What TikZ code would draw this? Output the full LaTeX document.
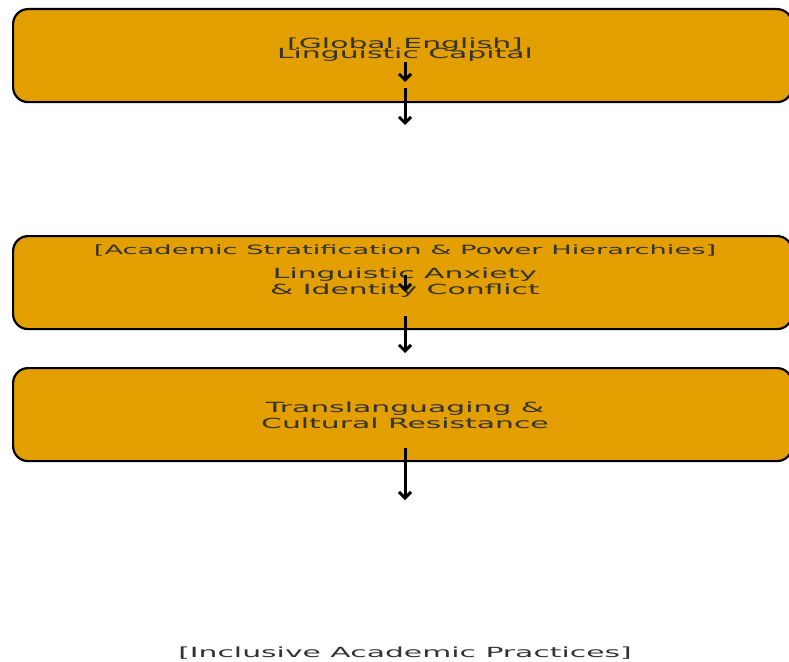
\documentclass[tikz,border=0pt]{standalone}
\usepackage{fontspec}
\setmainfont{DejaVu Sans}
\usetikzlibrary{arrows.meta}
\definecolor{stageorange}{HTML}{E39E00}
\definecolor{labelgray}{HTML}{333333}
\tikzset{
  stagebox/.style={draw,line width=2.2pt,fill=stageorange,rounded corners=15pt,
    minimum width=779pt,minimum height=93pt,inner sep=0pt,anchor=north west},
  stagetext/.style={text=labelgray,align=center,inner sep=0pt,
    font=\fontsize{14}{16}\selectfont,xscale=2.13,transform shape},
  flow/.style={line width=3pt,->}
}
\begin{document}
\begin{tikzpicture}[x=1pt,y=-1pt,>={Straight Barb[length=6pt,width=12pt]}]
  \useasboundingbox (0,0) rectangle (789,661);
  \node[stagebox] (box1) at (12,8) {};
  \node[stagebox] (box2) at (12,235) {};
  \node[stagebox] (box3) at (12,367) {};
  \node[stagetext] (globaltag) at (405,45) {[Global English]};
  \node[stagetext] (capital) at (405,55) {Linguistic Capital};
  \node[stagetext,font=\fontsize{12.8}{15}\selectfont] (strattag) at (405,250)
    {[Academic Stratification \& Power Hierarchies]};
  \node[stagetext] (anxiety) at (405,283) {Linguistic Anxiety\\\& Identity Conflict};
  \node[stagetext] (transl) at (405,415) {Translanguaging \&\\Cultural Resistance};
  \node[stagetext] (inclusive) at (405,653) {[Inclusive Academic Practices]};
  % arrows
  \coordinate (a1s) at (405,62);  \coordinate (a1e) at (405,82);
  \coordinate (a2s) at (405,88);  \coordinate (a2e) at (405,125);
  \coordinate (a3s) at (405,275); \coordinate (a3e) at (405,292);
  \coordinate (a4s) at (405,316); \coordinate (a4e) at (405,353);
  \coordinate (a5s) at (405,448); \coordinate (a5e) at (405,500);
  \foreach \s/\e in {a1s/a1e,a2s/a2e,a3s/a3e,a4s/a4e,a5s/a5e}
    \draw[flow] (\s) -- (\e);
\end{tikzpicture}
\end{document}
